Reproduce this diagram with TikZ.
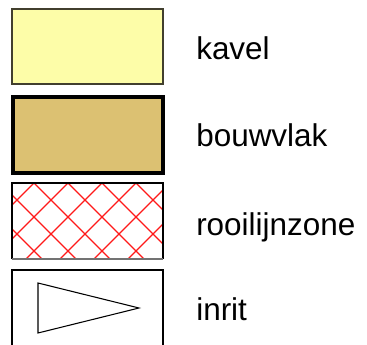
\documentclass[tikz,border=0pt]{standalone}
\usepackage{fontspec}
\setmainfont{Liberation Sans}
\begin{document}
\begin{tikzpicture}[x=0.75pt,y=-0.75pt,
  legbox/.style={rectangle,inner sep=0pt,outer sep=0pt,minimum width=113.25pt,minimum height=56.25pt},
  legtext/.style={anchor=base west,inner sep=0pt,font=\fontsize{23.6pt}{27pt}\selectfont},
  hatch/.style={red!90!white,line width=0.85pt}]
\useasboundingbox (0,0) rectangle (367,345);
% kavel
\node[legbox,draw=black!70!olive,line width=0.9pt,fill={rgb,255:red,253;green,253;blue,168}] (kavel) at (87.5,46.5) {};
\node[legtext] (tkavel) at (196,60) {kavel};
% bouwvlak
\node[legbox,draw=black,line width=3pt,fill={rgb,255:red,220;green,193;blue,114},minimum width=112.5pt,minimum height=57pt] (bouwvlak) at (88,135) {};
\node[legtext] (tbouwvlak) at (196,147) {bouwvlak};
% rooilijnzone
\node[legbox,minimum height=57pt] (rooi) at (87.5,221) {};
\begin{scope}
\clip (rooi.south west) rectangle (rooi.north east);
\foreach \k in {-6,...,12} {
  \draw[hatch] (\k*34+217-183,183) -- (\k*34+217-259,259);
  \draw[hatch] (\k*34-183+183,183) -- (\k*34-183+259,259);
}
\end{scope}
\draw[black,line width=0.9pt] (rooi.south west) -- (rooi.north west) -- (rooi.north east) -- (rooi.south east);
\draw[black!55,line width=1pt] (rooi.south west) -- (rooi.south east);
\node[legtext] (trooi) at (196,235) {rooilijnzone};
% inrit
\coordinate (i1) at (12,350);
\coordinate (i2) at (12,270);
\coordinate (i3) at (163,270);
\coordinate (i4) at (163,350);
\draw[black,line width=0.9pt] (i1) -- (i2) -- (i3) -- (i4);
\coordinate (ta) at (38,283);
\coordinate (tb) at (139,308);
\coordinate (tc) at (38,333);
\draw[black,line width=0.8pt] (ta) -- (tb) -- (tc) -- cycle;
\node[legtext] (tinrit) at (196,320) {inrit};
\end{tikzpicture}
\end{document}
